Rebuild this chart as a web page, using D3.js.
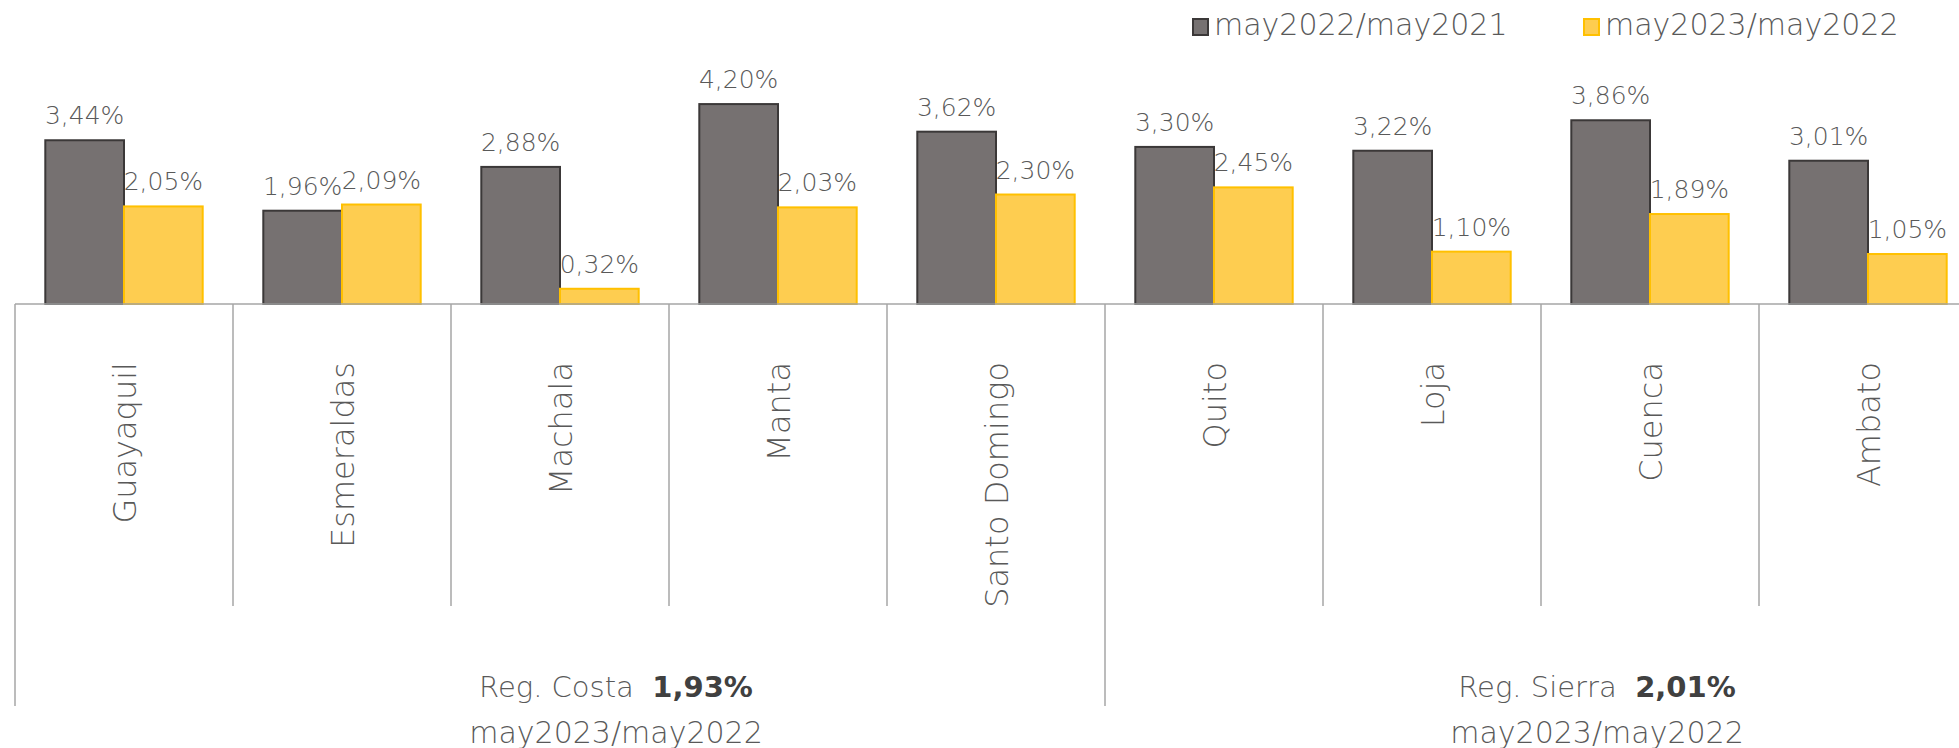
<!DOCTYPE html>
<html>
<head>
<meta charset="utf-8">
<script src="https://cdn.jsdelivr.net/npm/d3@7"></script>
<style>
  body { margin: 0; background: #fff; }
  svg { display: block; }
  text { font-family: "DejaVu Sans", sans-serif; font-weight: 200; fill: #595959; }
</style>
</head>
<body>
<div id="chart"></div>
<script>
// categories (cities) and the two growth series, in %
let cities = ['Guayaquil', 'Esmeraldas', 'Machala', 'Manta', 'Santo Domingo',
  'Quito', 'Loja', 'Cuenca', 'Ambato'];
let seriesNames = ['may2022/may2021', 'may2023/may2022'];
let may22vs21 = [3.44, 1.96, 2.88, 4.20, 3.62, 3.30, 3.22, 3.86, 3.01];
let may23vs22 = [2.05, 2.09, 0.32, 2.03, 2.30, 2.45, 1.10, 1.89, 1.05];

// regions group the cities
let regionNames = ['Reg. Costa', 'Reg. Sierra'];
let regionValues = ['1,93%', '2,01%'];
let regionFirst = ['Guayaquil', 'Quito'];
let regionLast = ['Santo Domingo', 'Ambato'];
let regionPeriod = 'may2023/may2022';

let width = 1959, height = 748;
let baseY = 304;

let svg = d3.select('#chart').append('svg')
  .attr('width', width)
  .attr('height', height);

// category width ~218px, chart runs a bit past the right edge
let x0 = d3.scaleBand()
  .domain(cities)
  .range([15, 15 + 218 * cities.length])
  .paddingInner(0)
  .paddingOuter(0);

let x1 = d3.scaleBand()
  .domain(seriesNames)
  .range([0, x0.bandwidth()])
  .paddingInner(0)
  .paddingOuter(0.385);

let y = d3.scaleLinear()
  .domain([0, 5])
  .range([baseY, 66]);

let fills = ['#767171', '#fecd50'];
let strokes = ['#3b3838', '#ffc000'];
let fmt = v => v.toFixed(2).replace('.', ',') + '%';

let rows = cities.map((c, i) => ({city: c, vals: [may22vs21[i], may23vs22[i]]}));

// bars
let groups = svg.append('g').selectAll('g')
  .data(rows)
  .join('g')
  .attr('transform', d => `translate(${x0(d.city)},0)`);

groups.selectAll('rect')
  .data(d => d.vals.map((v, k) => ({k: k, v: v})))
  .join('rect')
  .attr('x', d => x1(seriesNames[d.k]))
  .attr('y', d => y(d.v))
  .attr('width', x1.bandwidth())
  .attr('height', d => y(0) - y(d.v))
  .attr('fill', d => fills[d.k])
  .attr('stroke', d => strokes[d.k])
  .attr('stroke-width', 2);

// data labels
groups.selectAll('text.val')
  .data(d => d.vals.map((v, k) => ({k: k, v: v})))
  .join('text')
  .attr('class', 'val')
  .attr('x', d => x1(seriesNames[d.k]) + x1.bandwidth() / 2)
  .attr('y', d => y(d.v) - 16)
  .attr('text-anchor', 'middle')
  .style('font-size', '25px')
  .text(d => fmt(d.v));

// baseline
svg.append('line')
  .attr('x1', x0.range()[0]).attr('x2', width)
  .attr('y1', baseY).attr('y2', baseY)
  .attr('stroke', '#a6a6a6')
  .attr('stroke-width', 1.5);

// separators between categories; region borders run lower
let regionStarts = regionFirst.map(c => cities.indexOf(c));
let bounds = d3.range(cities.length + 1);
svg.append('g').selectAll('line')
  .data(bounds)
  .join('line')
  .attr('x1', i => 15 + i * x0.step())
  .attr('x2', i => 15 + i * x0.step())
  .attr('y1', baseY)
  .attr('y2', i => (regionStarts.includes(i) || i === cities.length) ? 706 : 606)
  .attr('stroke', '#a6a6a6')
  .attr('stroke-width', 1.5);

// category labels, rotated
svg.append('g').selectAll('text')
  .data(cities)
  .join('text')
  .attr('transform', d => `translate(${x0(d) + x0.bandwidth() / 2},362) rotate(-90)`)
  .attr('text-anchor', 'end')
  .attr('dy', '0.36em')
  .style('font-size', '32px')
  .text(d => d);

// region labels
regionNames.forEach((name, r) => {
  let left = x0(regionFirst[r]);
  let right = x0(regionLast[r]) + x0.bandwidth();
  let cx = (left + right) / 2 + 56;
  let t = svg.append('text')
    .attr('x', cx)
    .attr('y', 697)
    .attr('text-anchor', 'middle')
    .style('font-size', '29px');
  t.append('tspan').text(name + '\u00a0\u00a0');
  t.append('tspan').style('font-weight', 'bold').style('fill', '#404040').text(regionValues[r]);
  svg.append('text')
    .attr('x', cx)
    .attr('y', 743)
    .attr('text-anchor', 'middle')
    .style('font-size', '30px')
    .text(regionPeriod);
});

// legend
let legendX = [1192, 1583];
let legend = svg.append('g').selectAll('g')
  .data(seriesNames)
  .join('g')
  .attr('transform', (d, i) => `translate(${legendX[i]},0)`);
legend.append('rect')
  .attr('x', 1).attr('y', 19)
  .attr('width', 15).attr('height', 16)
  .attr('fill', (d, i) => fills[i])
  .attr('stroke', (d, i) => strokes[i])
  .attr('stroke-width', 2);
legend.append('text')
  .attr('x', 22)
  .attr('y', 35)
  .style('font-size', '30px')
  .text(d => d);
</script>
</body>
</html>
